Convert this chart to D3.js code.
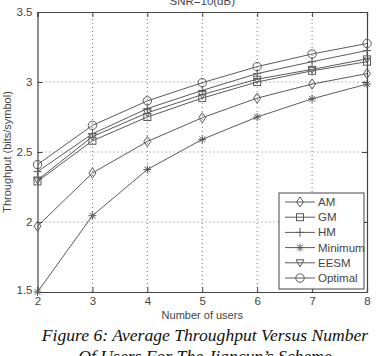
<!DOCTYPE html>
<html><head><meta charset="utf-8">
<script src="https://cdn.jsdelivr.net/npm/d3@7"></script>
<style>body{margin:0;background:#fff}svg{display:block}</style>
</head><body>
<script>
const users = [2, 3, 4, 5, 6, 7, 8];
const xTicks = [2, 3, 4, 5, 6, 7, 8];
const yTicks = [1.5, 2, 2.5, 3, 3.5];
const seriesNames = ["AM", "GM", "HM", "Minimum", "EESM", "Optimal"];
const amVals      = [1.97, 2.35, 2.575, 2.745, 2.885, 2.985, 3.06];
const gmVals      = [2.29, 2.58, 2.75, 2.885, 3.00, 3.08, 3.145];
const hmVals      = [2.36, 2.63, 2.81, 2.94, 3.06, 3.145, 3.225];
const minVals     = [1.5, 2.045, 2.375, 2.59, 2.75, 2.88, 2.985];
const eesmVals    = [2.30, 2.61, 2.78, 2.91, 3.02, 3.09, 3.165];
const optVals     = [2.41, 2.69, 2.865, 2.995, 3.11, 3.20, 3.275];
const markers = ["diamond", "square", "plus", "star", "tri", "circle"];
const allVals = [amVals, gmVals, hmVals, minVals, eesmVals, optVals];

const W = 376, H = 356;
const m = {l: 37.5, r: 9, t: 12, b: 64};
const svg = d3.select("body").append("svg").attr("width", W).attr("height", H);
const x = d3.scaleLinear().domain([2, 8]).range([m.l, W - m.r]);
const y = d3.scaleLinear().domain([1.5, 3.5]).range([H - m.b, m.t]);
const lc = "#5a5a5a";
const font = "Liberation Sans, Arial, sans-serif";

// grid
svg.append("g").selectAll("line").data(xTicks.slice(1, -1)).join("line")
  .attr("x1", d => x(d)).attr("x2", d => x(d)).attr("y1", y(1.5)).attr("y2", y(3.5))
  .attr("stroke", "#777").attr("stroke-width", 1).attr("stroke-dasharray", "1,3");
svg.append("g").selectAll("line").data(yTicks.slice(1, -1)).join("line")
  .attr("y1", d => y(d)).attr("y2", d => y(d)).attr("x1", x(2)).attr("x2", x(8))
  .attr("stroke", "#777").attr("stroke-width", 1).attr("stroke-dasharray", "1,3");

// axes with inward ticks
const ax = svg.append("g").attr("font-family", font);
const xb = ax.append("g").attr("transform", `translate(0,${y(1.5)})`)
  .call(d3.axisBottom(x).tickValues(xTicks).tickSize(-5).tickPadding(5).tickFormat(d3.format("d")));
const xt = ax.append("g").attr("transform", `translate(0,${y(3.5)})`)
  .call(d3.axisTop(x).tickValues(xTicks).tickSize(-5).tickFormat(""));
const yl = ax.append("g").attr("transform", `translate(${x(2)},0)`)
  .call(d3.axisLeft(y).tickValues(yTicks).tickSize(-5).tickPadding(5).tickFormat(d3.format("")));
const yr = ax.append("g").attr("transform", `translate(${x(8)},0)`)
  .call(d3.axisRight(y).tickValues(yTicks).tickSize(-5).tickFormat(""));
[xb, xt, yl, yr].forEach(g => {
  g.selectAll("path").attr("stroke", "#444").attr("stroke-width", 1.2);
  g.selectAll("line").attr("stroke", "#444");
  g.selectAll("text").attr("fill", "#444").attr("font-size", 11.5);
});
yl.selectAll(".tick").filter(d => d === 1.5).select("text").attr("dy", "0.1em");

// marker drawing
function drawMarker(g, type, cx, cy) {
  let el;
  if (type === "diamond") el = g.append("path").attr("d", `M${cx},${cy-5}L${cx+3.5},${cy}L${cx},${cy+5}L${cx-3.5},${cy}Z`);
  else if (type === "square") el = g.append("rect").attr("x", cx-3.5).attr("y", cy-3.5).attr("width", 7).attr("height", 7);
  else if (type === "plus") el = g.append("path").attr("d", `M${cx-4},${cy}H${cx+4}M${cx},${cy-4.5}V${cy+4.5}`);
  else if (type === "star") el = g.append("path").attr("d", `M${cx-4},${cy}H${cx+4}M${cx},${cy-4}V${cy+4}M${cx-2.9},${cy-2.9}L${cx+2.9},${cy+2.9}M${cx-2.9},${cy+2.9}L${cx+2.9},${cy-2.9}`);
  else if (type === "tri") el = g.append("path").attr("d", `M${cx-4},${cy-3}L${cx+4},${cy-3}L${cx},${cy+4}Z`);
  else el = g.append("circle").attr("cx", cx).attr("cy", cy).attr("r", 4.2);
  el.attr("stroke", lc).attr("stroke-width", 1).attr("fill", "none");
}

const line = d3.line().x((d, i) => x(users[i])).y(d => y(d));
const plot = svg.append("g");
allVals.forEach((vals, si) => {
  plot.append("path").datum(vals).attr("d", line).attr("fill", "none")
    .attr("stroke", lc).attr("stroke-width", 1);
  vals.forEach((v, i) => drawMarker(plot, markers[si], x(users[i]), y(v)));
});

// legend
const lg = svg.append("g");
lg.append("rect").attr("x", 279).attr("y", 193).attr("width", 85).attr("height", 96)
  .attr("fill", "#fff").attr("stroke", "#444").attr("stroke-width", 1);
seriesNames.forEach((n, i) => {
  const cy = 202 + i * 15.2;
  lg.append("line").attr("x1", 285).attr("x2", 315).attr("y1", cy).attr("y2", cy)
    .attr("stroke", lc).attr("stroke-width", 1);
  drawMarker(lg, markers[i], 300, cy);
  lg.append("text").attr("x", 318).attr("y", cy).attr("dy", "0.35em")
    .attr("font-family", font).attr("font-size", 11.5).attr("fill", "#444").text(n);
});

// title and labels
svg.append("text").attr("x", x(5)).attr("y", 5).attr("text-anchor", "middle")
  .attr("font-family", font).attr("font-size", 11.5).attr("fill", "#444").text("SNR=10(dB)");
svg.append("text").attr("x", x(5)).attr("y", 319).attr("text-anchor", "middle")
  .attr("font-family", font).attr("font-size", 11).attr("fill", "#444").text("Number of users");
svg.append("text").attr("transform", `translate(11,${y(2.5)}) rotate(-90)`).attr("text-anchor", "middle")
  .attr("font-family", font).attr("font-size", 11).attr("fill", "#444").text("Throughput (bits/symbol)");

// caption
const cap = svg.append("g").attr("font-family", "Liberation Serif, Times New Roman, serif")
  .attr("font-style", "italic").attr("font-size", 17.6).attr("fill", "#111").attr("text-anchor", "middle");
cap.append("text").attr("x", 205).attr("y", 341).text("Figure 6: Average Throughput Versus Number");
cap.append("text").attr("x", 205).attr("y", 362).text("Of Users For The Jiancun\u2019s Scheme");
</script>
</body></html>
